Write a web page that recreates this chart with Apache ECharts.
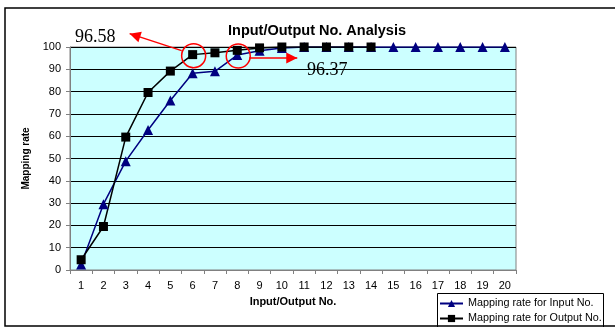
<!DOCTYPE html>
<html><head><meta charset="utf-8">
<script src="https://cdn.jsdelivr.net/npm/echarts@6/dist/echarts.min.js"></script>
<style>html,body{margin:0;padding:0;background:#fff}#c{width:615px;height:327px}</style>
</head><body><div id="c"></div>
<script>
var categories = ['1','2','3','4','5','6','7','8','9','10','11','12','13','14','15','16','17','18','19','20'];
var inputRate = [2.5, 29.5, 48.8, 62.8, 76, 88.2, 89.1, 96.37, 98.3, 99.6, 100, 100, 100, 100, 100, 100, 100, 100, 100, 100];
var outputRate = [4.6, 19.5, 59.6, 79.6, 89.2, 96.58, 97.4, 98.5, 99.6, 100, 100, 100, 100, 100];
var yTicks = [0, 10, 20, 30, 40, 50, 60, 70, 80, 90, 100];
var seriesNames = ['Mapping rate for Input No.', 'Mapping rate for Output No.'];
var annInput = {index: 7, label: '96.37'};
var annOutput = {index: 5, label: '96.58'};

var chart = echarts.init(document.getElementById('c'), null, {renderer: 'canvas'});
var legendText = {fontFamily: 'Liberation Sans, Arial', fontSize: 10.8, color: '#000'};
var option = {
  animation: false,
  backgroundColor: '#fff',
  title: {
    text: 'Input/Output No. Analysis', left: 312, top: 18, textAlign: 'center',
    textStyle: {fontFamily: 'Liberation Sans, Arial', fontSize: 14.5, fontWeight: 'bold', color: '#000'}
  },
  grid: {left: 70, right: 99, top: 47, bottom: 57, show: true, backgroundColor: '#CCFFFF', borderColor: '#808080', borderWidth: 1},
  legend: [
    {orient: 'horizontal', left: 437, top: 298, itemGap: 3, itemWidth: 23, itemHeight: 9, padding: [0, 2],
      textStyle: legendText, data: [seriesNames[0]]},
    {orient: 'horizontal', left: 437, top: 313, itemGap: 3, itemWidth: 23, itemHeight: 9, padding: [0, 2],
      textStyle: legendText, data: [seriesNames[1]]}
  ],
  xAxis: {
    type: 'category', data: categories, boundaryGap: true,
    name: 'Input/Output No.', nameLocation: 'middle', nameGap: 26,
    nameTextStyle: {fontFamily: 'Liberation Sans, Arial', fontSize: 11, fontWeight: 'bold', color: '#000'},
    axisLine: {lineStyle: {color: '#808080', width: 1}},
    axisTick: {show: true, alignWithLabel: false, length: 4, lineStyle: {color: '#808080'}},
    axisLabel: {margin: 10, fontFamily: 'Liberation Sans, Arial', fontSize: 11, color: '#000'},
    splitLine: {show: false}
  },
  yAxis: {
    type: 'value', min: 0, max: 100, interval: 10,
    name: 'Mapping rate', nameLocation: 'middle', nameGap: 38, nameRotate: 90,
    nameTextStyle: {fontFamily: 'Liberation Sans, Arial', fontSize: 10, fontWeight: 'bold', color: '#000'},
    axisLine: {show: true, lineStyle: {color: '#808080', width: 1}},
    axisTick: {show: true, length: 4, lineStyle: {color: '#808080'}},
    axisLabel: {margin: 9, fontFamily: 'Liberation Sans, Arial', fontSize: 11, color: '#000',
      formatter: function (v) { return yTicks.indexOf(v) >= 0 ? String(v) : ''; }},
    splitLine: {show: true, lineStyle: {color: '#000', width: 1}}
  },
  series: [
    {
      name: seriesNames[0], type: 'line', data: inputRate,
      symbol: 'triangle', symbolSize: 10, showAllSymbol: true,
      lineStyle: {color: '#000080', width: 1.5}, itemStyle: {color: '#000080'}
    },
    {
      name: seriesNames[1], type: 'line', data: outputRate,
      symbol: 'rect', symbolSize: 9, showAllSymbol: true,
      lineStyle: {color: '#000', width: 1.5}, itemStyle: {color: '#000'}
    }
  ]
};
chart.setOption(option);

function px(i, v) { return chart.convertToPixel({xAxisIndex: 0, yAxisIndex: 0}, [i, v]); }
var pO = px(annOutput.index, outputRate[annOutput.index]);
var pI = px(annInput.index, inputRate[annInput.index]);
var red = '#FF0000';
function arrowHead(x1, y1, x2, y2, size) {
  var a = Math.atan2(y2 - y1, x2 - x1);
  var s = size, w = size * 0.5;
  return [[x2, y2],
    [x2 - s * Math.cos(a) + w * Math.sin(a), y2 - s * Math.sin(a) - w * Math.cos(a)],
    [x2 - s * Math.cos(a) - w * Math.sin(a), y2 - s * Math.sin(a) + w * Math.cos(a)]];
}
var a1 = [pO[0] - 11, pO[1] - 4, pO[0] - 63, pO[1] - 21];
var a2 = [pI[0] + 12, pI[1] + 3, pI[0] + 60, pI[1] + 3];
chart.setOption({
  graphic: [
    {type: 'rect', shape: {x: 5, y: 8, width: 700, height: 318}, style: {fill: 'none', stroke: '#000', lineWidth: 1.5}, silent: true, z: 100},
    {type: 'rect', shape: {x: 437.5, y: 293.5, width: 166, height: 40}, style: {fill: '#fff', stroke: '#000', lineWidth: 1}, silent: true, z: -1},
    {type: 'circle', shape: {cx: pO[0] + 1, cy: pO[1] + 1, r: 12}, style: {fill: 'none', stroke: red, lineWidth: 1.5}, z: 100},
    {type: 'circle', shape: {cx: pI[0] + 1, cy: pI[1] + 1, r: 12}, style: {fill: 'none', stroke: red, lineWidth: 1.5}, z: 100},
    {type: 'line', shape: {x1: a1[0], y1: a1[1], x2: a1[2], y2: a1[3]}, style: {stroke: red, lineWidth: 1.5}, z: 100},
    {type: 'polygon', shape: {points: arrowHead(a1[0], a1[1], a1[2], a1[3], 11)}, style: {fill: red}, z: 100},
    {type: 'line', shape: {x1: a2[0], y1: a2[1], x2: a2[2], y2: a2[3]}, style: {stroke: red, lineWidth: 1.5}, z: 100},
    {type: 'polygon', shape: {points: arrowHead(a2[0], a2[1], a2[2], a2[3], 11)}, style: {fill: red}, z: 100},
    {type: 'text', x: 75, y: 46, style: {text: annOutput.label, fontFamily: 'Liberation Serif, Times New Roman', fontSize: 18, fill: '#000', textVerticalAlign: 'bottom', verticalAlign: 'bottom'}, z: 100},
    {type: 'text', x: 307, y: 79, style: {text: annInput.label, fontFamily: 'Liberation Serif, Times New Roman', fontSize: 18, fill: '#000', textVerticalAlign: 'bottom', verticalAlign: 'bottom'}, z: 100}
  ]
});
</script></body></html>
